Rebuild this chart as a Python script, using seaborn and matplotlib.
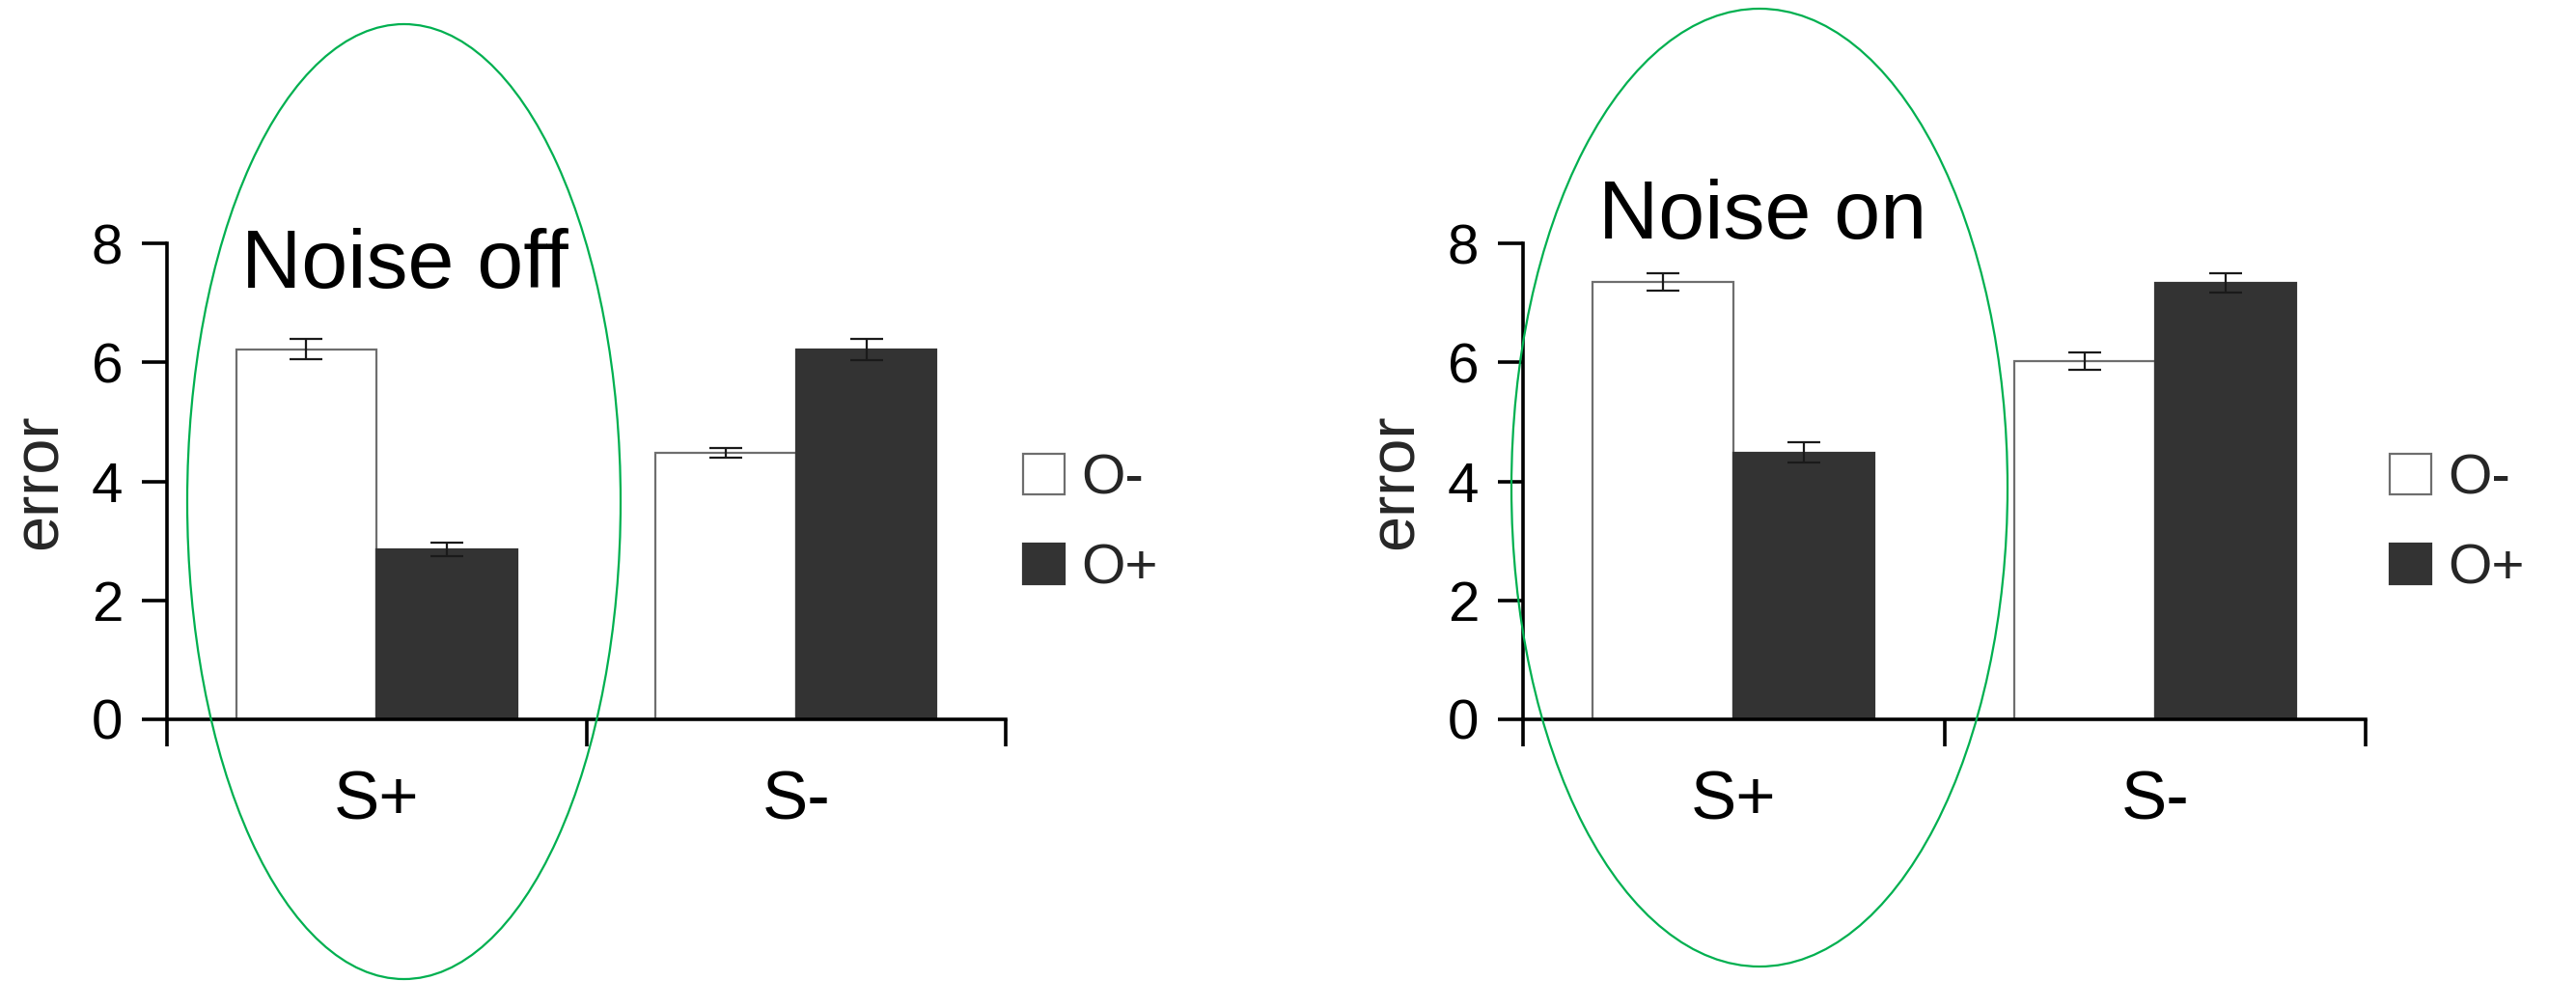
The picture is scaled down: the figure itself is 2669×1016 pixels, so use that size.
import matplotlib
matplotlib.use("Agg")
import matplotlib.pyplot as plt
from matplotlib.patches import Ellipse, Patch
import seaborn as sns
import pandas as pd

# ---- data ----
stimulus = ["S+", "S-"]
outcome = ["O-", "O+"]
panel_titles = ["Noise off", "Noise on"]

off_omin = [6.22, 4.48]
off_oplus = [2.86, 6.22]
off_omin_err = [0.17, 0.08]
off_oplus_err = [0.11, 0.18]

on_omin = [7.35, 6.02]
on_oplus = [4.48, 7.33]
on_omin_err = [0.15, 0.15]
on_oplus_err = [0.17, 0.16]

y_ticks = [0, 2, 4, 6, 8]

# ---- style ----
sns.set_theme(style="ticks")
plt.rcParams["font.family"] = ["Liberation Sans", "DejaVu Sans"]

W, H = 2669, 1016
fig = plt.figure(figsize=(W / 100, H / 100), dpi=100)

colors = {"O-": "white", "O+": "#333333"}
edges = {"O-": "#6e6e6e", "O+": "#333333"}


def px_axes(x0, x1, y_top, y_bot):
    return [x0 / W, 1 - y_bot / H, (x1 - x0) / W, (y_bot - y_top) / H]


panels = [
    dict(rect=px_axes(173, 1042, 252, 745), omin=off_omin, oplus=off_oplus,
         emin=off_omin_err, eplus=off_oplus_err, title=panel_titles[0],
         tpos=(250, 298), leg_x=1060,
         ell=(418.5, 519.5, 449, 989)),
    dict(rect=px_axes(1578, 2451, 252, 745), omin=on_omin, oplus=on_oplus,
         emin=on_omin_err, eplus=on_oplus_err, title=panel_titles[1],
         tpos=(1656, 247), leg_x=2476,
         ell=(1823, 505, 514, 992)),
]

for p in panels:
    ax = fig.add_axes(p["rect"])
    df = pd.DataFrame({
        "S": stimulus * 2,
        "O": [outcome[0]] * 2 + [outcome[1]] * 2,
        "error": list(p["omin"]) + list(p["oplus"]),
    })
    sns.barplot(data=df, x="S", y="error", hue="O", order=stimulus,
                hue_order=outcome, palette=colors, width=0.67,
                errorbar=None, ax=ax, legend=False, saturation=1)
    errs = {"O-": p["emin"], "O+": p["eplus"]}
    for cont, lvl in zip(ax.containers, outcome):
        for i, bar in enumerate(cont):
            bar.set_edgecolor(edges[lvl])
            bar.set_linewidth(1.6)
            cx = bar.get_x() + bar.get_width() / 2
            ax.errorbar(cx, bar.get_height(), yerr=errs[lvl][i],
                        fmt="none", ecolor="#1a1a1a", elinewidth=1.6,
                        capsize=12.5, capthick=1.6, zorder=5)

    ax.set_xlim(-0.5, 1.5)
    ax.set_ylim(0, 8)
    ax.set_yticks(y_ticks)
    ax.set_yticklabels([str(v) for v in y_ticks], fontsize=42)
    ax.set_xticks([0, 1])
    ax.set_xticklabels(stimulus, fontsize=51)
    ax.set_xticks([-0.5, 0.5, 1.5], minor=True)
    ax.tick_params(axis="x", which="major", length=0, pad=38, colors="black")
    ax.tick_params(axis="x", which="minor", length=20, width=2.6,
                   color="black", direction="out")
    ax.tick_params(axis="y", length=19, width=2.6, pad=14, colors="black",
                   direction="out")
    for s in ["top", "right"]:
        ax.spines[s].set_visible(False)
    for s in ["left", "bottom"]:
        ax.spines[s].set_linewidth(2.6)
        ax.spines[s].set_color("black")
    ax.set_xlabel("")
    ax.set_ylabel("error", fontsize=48, labelpad=16)
    ax.patch.set_alpha(0)

    # legend
    handles = [Patch(facecolor=colors[o], edgecolor=edges[o], linewidth=1.6)
               for o in outcome]
    axw = p["rect"][2] * W
    x0 = p["rect"][0] * W
    ax.legend(handles, outcome, loc="center left",
              bbox_to_anchor=((p["leg_x"] - x0) / axw, 0.41),
              frameon=False, fontsize=42, handlelength=0.74,
              handleheight=0.74, handletextpad=0.3, labelspacing=0.66,
              borderpad=0, borderaxespad=0)

    # title annotation
    tx, ty = p["tpos"]
    fig.text(tx / W, 1 - ty / H, p["title"], fontsize=62, va="baseline",
             ha="left", color="black")

    # green ellipse
    cx, cy, ew, eh = p["ell"]
    fig.patches.append(Ellipse((cx / W, 1 - cy / H), ew / W, eh / H,
                               transform=fig.transFigure, fill=False,
                               edgecolor="#00b050", linewidth=1.6,
                               zorder=10))

fig.savefig("out.png", dpi=100, facecolor="white")
